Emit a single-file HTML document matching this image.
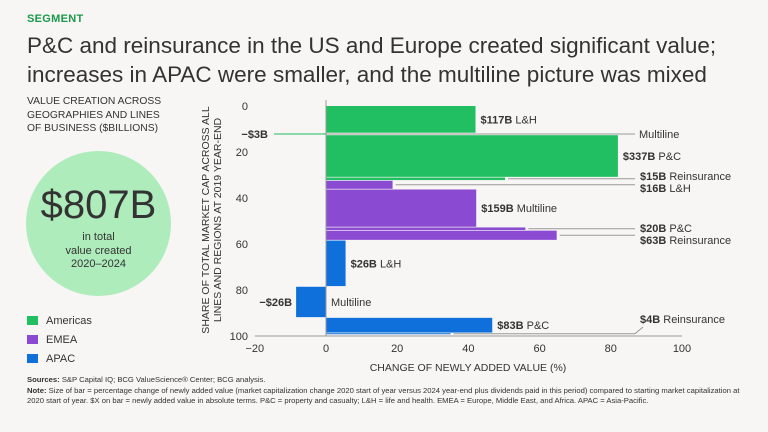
<!DOCTYPE html>
<html><head><meta charset="utf-8">
<style>
body{margin:0;width:768px;height:432px;background:#f7f6f4;font-family:"Liberation Sans",sans-serif;color:#2b2b2b;overflow:hidden;position:relative}
.a{position:absolute;white-space:nowrap}
</style></head><body>
<div class="a" style="left:27px;top:13px;font-size:11px;font-weight:bold;color:#1a9a4a;letter-spacing:0.3px">SEGMENT</div>
<div class="a" style="left:27px;top:31px;font-size:22.5px;line-height:29px;color:#333">P&amp;C and reinsurance in the US and Europe created significant value;<br>increases in APAC were smaller, and the multiline picture was mixed</div>
<div class="a" style="left:27px;top:95px;font-size:10.3px;line-height:13.5px;color:#333">VALUE CREATION ACROSS<br>GEOGRAPHIES AND LINES<br>OF BUSINESS ($BILLIONS)</div>
<div class="a" style="left:26px;top:151px;width:145px;height:145px;border-radius:50%;background:#aeecbc"></div>
<div class="a" style="left:26px;width:145px;top:183px;text-align:center;font-size:40px;color:#333">$807B</div>
<div class="a" style="left:26px;width:145px;top:231px;text-align:center;font-size:11px;line-height:13.5px;color:#333">in total<br>value created<br>2020–2024</div>
<div class="a" style="left:27px;top:315px;font-size:11px;color:#333"><span style="display:inline-block;width:11px;height:9px;background:#21bf61;margin-right:8px;vertical-align:-1px"></span>Americas</div>
<div class="a" style="left:27px;top:334px;font-size:11px;color:#333"><span style="display:inline-block;width:11px;height:9px;background:#8a4ad2;margin-right:8px;vertical-align:-1px"></span>EMEA</div>
<div class="a" style="left:27px;top:353px;font-size:11px;color:#333"><span style="display:inline-block;width:11px;height:9px;background:#0f6fdb;margin-right:8px;vertical-align:-1px"></span>APAC</div>

<svg class="a" style="left:0;top:0" width="768" height="432" id="chart" font-family="Liberation Sans, sans-serif"></svg>

<div class="a" style="left:27px;top:375px;font-size:7.65px;line-height:10.6px;color:#333;white-space:nowrap;width:735px"><b>Sources:</b> S&amp;P Capital IQ; BCG ValueScience® Center; BCG analysis.<br><b>Note:</b> Size of bar = percentage change of newly added value (market capitalization change 2020 start of year versus 2024 year-end plus dividends paid in this period) compared to starting market capitalization at<br>2020 start of year. $X on bar = newly added value in absolute terms. P&amp;C = property and casualty; L&amp;H = life and health. EMEA = Europe, Middle East, and Africa. APAC = Asia-Pacific.</div>

<script>
const regions=["Americas","Americas","Americas","Americas","EMEA","EMEA","EMEA","EMEA","APAC","APAC","APAC","APAC"];
const lines=["L&H","Multiline","P&C","Reinsurance","L&H","Multiline","P&C","Reinsurance","L&H","Multiline","P&C","Reinsurance"];
const changePct=[42,-1,82,50.3,18.7,42.2,56,64.8,5.5,-8.4,46.7,35];
const sharePct=[11.6,0.5,18.1,1.1,3.5,16.2,1.1,4.0,19.8,13.2,6.4,0.4];
const valueLabels=["$117B","\u2212$3B","$337B","$15B","$16B","$159B","$20B","$63B","$26B","\u2212$26B","$83B","$4B"];
const xTicks=[-20,0,20,40,60,80,100];
const yTicks=[0,20,40,60,80,100];
const colors={Americas:"#21bf61",EMEA:"#8a4ad2",APAC:"#0f6fdb"};
const x=v=>326+(v)*3.56;
const y=v=>106+v*2.3;
const svg=document.getElementById('chart');
const NS="http://www.w3.org/2000/svg";
function mk(t,a,txt){const e=document.createElementNS(NS,t);for(const k in a)e.setAttribute(k,a[k]);if(txt!=null)e.textContent=txt;svg.appendChild(e);return e;}
yTicks.forEach(t=>{const e=mk('text',{x:248,y:y(t)+4,'font-size':11,fill:'#333','text-anchor':'end'},t);

});
xTicks.forEach(t=>{const e=mk('text',{x:x(t),y:352,'font-size':11,fill:'#333','text-anchor':'middle'},t<0?'\u2212'+(-t):t);

});
let t1=mk('text',{x:468,y:371,'font-size':10.5,fill:'#333','text-anchor':'middle'},'CHANGE OF NEWLY ADDED VALUE (%)');


let t2=mk('text',{transform:'translate(209,220) rotate(-90)','font-size':10.5,fill:'#333','text-anchor':'middle'},'SHARE OF TOTAL MARKET CAP ACROSS ALL');


let t3=mk('text',{transform:'translate(221,220) rotate(-90)','font-size':10.5,fill:'#333','text-anchor':'middle'},'LINES AND REGIONS AT 2019 YEAR-END');


const gap=0.3;let cum=0;
const big=[true,false,true,false,false,true,false,false,true,true,true,false];
for(let i=0;i<changePct.length;i++){
 const y0=cum, y1=cum+sharePct[i]; cum=y1+gap;
 const v=changePct[i];
 const xa=Math.min(x(0),x(v)), w=Math.max(Math.abs(x(v)-x(0)),0.5);
 const r=mk('rect',{x:xa,y:y(y0),width:w,height:Math.max(y(y1)-y(y0),1),fill:colors[regions[i]]});
 
 
 const mid=(y(y0)+y(y1))/2;
 let lx, ly=mid+4;
 if(big[i]){
   if(v<0){
     const a=mk('text',{x:x(v)-4,y:ly,'font-size':11,'font-weight':'bold',fill:'#333','text-anchor':'end'},valueLabels[i]);
     
     
     const b=mk('text',{x:x(0)+5,y:ly,'font-size':11,fill:'#333'},lines[i]);
     
     
     continue;
   }
   lx=x(v)+5;
 } else {
   lx=640;
   if(i===1){
     const l1=mk('line',{x1:x(0),y1:mid,x2:635,y2:mid,stroke:'#999','stroke-width':1});
     
     
     const l2=mk('line',{x1:274,y1:mid,x2:x(0),y2:mid,stroke:colors[regions[i]],'stroke-width':1});
     
     
     const a=mk('text',{x:268,y:ly,'font-size':11,'font-weight':'bold',fill:'#333','text-anchor':'end'},valueLabels[i]);
     
     
     const b=mk('text',{x:639,y:ly,'font-size':11,fill:'#333'},lines[i]);
     
     
     continue;
   }
   if(i===11){ly=323;
     const l=mk('polyline',{points:`${x(v)+3},${mid} ${635},${mid} ${643},${327}`,fill:'none',stroke:'#999','stroke-width':1});
     
     
   } else {
     const l=mk('line',{x1:x(v)+3,y1:mid,x2:635,y2:mid,stroke:'#999','stroke-width':1});
     
     
   }
   if(i===3) ly=180; if(i===4) ly=192; if(i===6) ly=232; if(i===7) ly=244;
 }
 const g=mk('text',{x:lx,y:ly,'font-size':11,fill:'#333'});
 
 
 const s1=document.createElementNS(NS,'tspan');s1.setAttribute('font-weight','bold');s1.textContent=valueLabels[i]+' ';g.appendChild(s1);
 const s2=document.createElementNS(NS,'tspan');s2.textContent=lines[i];g.appendChild(s2);
}
const ax=mk('line',{x1:x(0),y1:100,x2:x(0),y2:y(100),stroke:'#999','stroke-width':1});


const bx=mk('line',{x1:x(-20),y1:y(100),x2:x(100),y2:y(100),stroke:'#999','stroke-width':1});


</script>
</body></html>
